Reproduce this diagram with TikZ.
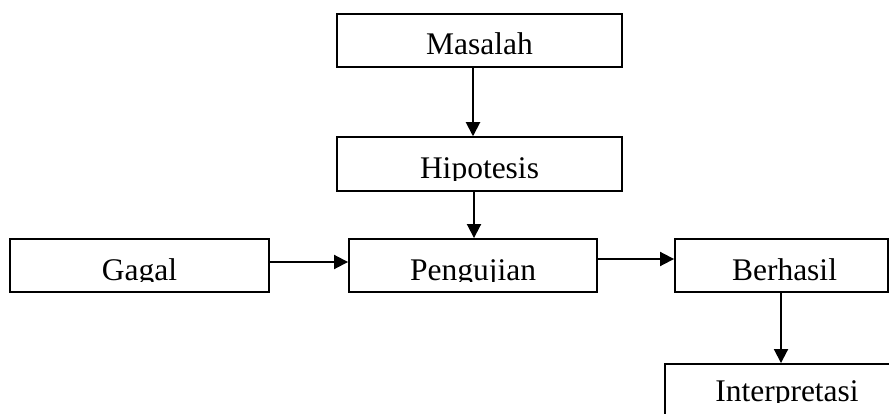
\documentclass[tikz,border=0pt]{standalone}
\usepackage{fontspec}
\setmainfont{Liberation Serif}
\usetikzlibrary{arrows.meta}
\begin{document}
\begin{tikzpicture}[x=1pt,y=-1pt,
  box/.style={draw,line width=1.9pt,rectangle,inner sep=0pt,minimum height=53pt},
  txt/.style={anchor=base,inner sep=0pt,font=\fontsize{31.5}{37}\selectfont},
  arr/.style={line width=1.9pt,-{Triangle[length=14pt,width=14pt]}}]
\useasboundingbox (0,0) rectangle (889,414);
\node[box,minimum width=285pt] (m) at (479.5,40.5) {};
\node[box,minimum width=285pt,minimum height=54pt] (h) at (479.5,164.2) {};
\node[box,minimum width=259pt] (g) at (139.5,265.5) {};
\node[box,minimum width=248pt] (p) at (473,265.5) {};
\node[box,minimum width=213pt] (b) at (781.5,265.5) {};
\node[box,minimum width=244pt] (i) at (787,390.5) {};
\begin{scope}
\clip (m.north west) rectangle ([yshift=12pt]m.south east);
\node[txt] (mt) at ([yshift=13.5pt]m.south) {Masalah};
\end{scope}
\begin{scope}
\clip (h.north west) rectangle ([yshift=12pt]h.south east);
\node[txt] (ht) at ([yshift=13.5pt]h.south) {Hipotesis};
\end{scope}
\begin{scope}
\clip (g.north west) rectangle ([yshift=11pt]g.south east);
\node[txt] (gt) at ([yshift=12.5pt]g.south) {Gagal};
\end{scope}
\begin{scope}
\clip (p.north west) rectangle ([yshift=11pt]p.south east);
\node[txt] (pt) at ([yshift=12.5pt]p.south) {Pengujian};
\end{scope}
\begin{scope}
\clip (b.north west) rectangle ([yshift=11pt]b.south east);
\node[txt] (bt) at ([xshift=3pt,yshift=12.5pt]b.south) {Berhasil};
\end{scope}
\begin{scope}
\clip (i.north west) rectangle ([yshift=15pt]i.south east);
\node[txt] (it) at ([yshift=16pt]i.south) {Interpretasi};
\end{scope}
\draw[arr] (m.south -| 473,0) -- (h.north -| 473,0);
\draw[arr] (h.south -| 474,0) -- (p.north -| 474,0);
\draw[arr] (g.east |- 0,262) -- (p.west |- 0,262);
\draw[arr] (p.east |- 0,259) -- (b.west |- 0,259);
\draw[arr] (b.south -| 781,0) -- (i.north -| 781,0);
\end{tikzpicture}
\end{document}
